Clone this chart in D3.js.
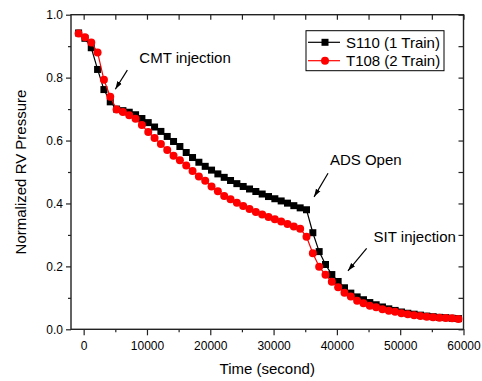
<!DOCTYPE html>
<html>
<head>
<meta charset="utf-8">
<script src="https://cdn.jsdelivr.net/npm/d3@7"></script>
<style>
body { margin: 0; background: white; }
text { font-family: "Liberation Sans", Arial, sans-serif; fill: #000; }
</style>
</head>
<body>
<script>
const largeur = 482;
const hauteur = 381;
const marges = { haut: 14.7, droite: 20, bas: 51.7, gauche: 71 };

// temps (s)
const temps = [
    -800, 200, 1200, 2200, 3200, 4200, 5200, 6200, 7200, 8200,
    9200, 10200, 11200, 12200, 13200, 14200, 15200, 16200, 17200, 18200,
    19200, 20200, 21200, 22200, 23200, 24200, 25200, 26200, 27200, 28200,
    29200, 30200, 31200, 32200, 33200, 34200, 35200, 36200, 37200, 38200,
    39200, 40200, 41200, 42200, 43200, 44200, 45200, 46200, 47200, 48200,
    49200, 50200, 51200, 52200, 53200, 54200, 55200, 56200, 57200, 58200,
    59200
];

const s110 = [
    0.942, 0.925, 0.895, 0.826, 0.762, 0.723, 0.700, 0.695, 0.690, 0.682,
    0.670, 0.657, 0.643, 0.629, 0.613, 0.597, 0.581, 0.562, 0.546, 0.531,
    0.518, 0.506, 0.494, 0.483, 0.473, 0.463, 0.454, 0.446, 0.438, 0.430,
    0.422, 0.415, 0.408, 0.401, 0.393, 0.386, 0.380, 0.307, 0.247, 0.206,
    0.174, 0.152, 0.132, 0.115, 0.103, 0.094, 0.085, 0.078, 0.071, 0.065,
    0.060, 0.055, 0.051, 0.048, 0.045, 0.042, 0.040, 0.038, 0.037, 0.035,
    0.034
];

const t108 = [
    0.940, 0.928, 0.912, 0.880, 0.793, 0.739, 0.699, 0.691, 0.680, 0.669,
    0.649, 0.627, 0.608, 0.589, 0.570, 0.552, 0.537, 0.521, 0.503, 0.486,
    0.472, 0.454, 0.439, 0.424, 0.413, 0.402, 0.392, 0.382, 0.373, 0.365,
    0.357, 0.350, 0.343, 0.335, 0.327, 0.320, 0.294, 0.242, 0.199, 0.173,
    0.151, 0.134, 0.116, 0.104, 0.091, 0.083, 0.075, 0.070, 0.064, 0.059,
    0.056, 0.051, 0.048, 0.045, 0.042, 0.040, 0.038, 0.037, 0.036, 0.035,
    0.033
];

const series = [
    { nom: "S110 (1 Train)", valeurs: s110, couleur: "#000000", symbole: "carre" },
    { nom: "T108 (2 Train)", valeurs: t108, couleur: "#ff0000", symbole: "rond" }
];

const ticksX = [0, 10000, 20000, 30000, 40000, 50000, 60000];
const ticksXMineurs = [5000, 15000, 25000, 35000, 45000, 55000];
const ticksY = [0, 0.2, 0.4, 0.6, 0.8, 1.0];
const ticksYMineurs = [0.1, 0.3, 0.5, 0.7, 0.9];

// annotations : texte, position du texte, debut et pointe de la fleche
const annotations = [
    { texte: "CMT injection", tx: 8800, ty: 0.845, x1: 6900, y1: 0.824, x2: 5000, y2: 0.763 },
    { texte: "ADS Open", tx: 38900, ty: 0.522, x1: 38600, y1: 0.496, x2: 36400, y2: 0.421 },
    { texte: "SIT injection", tx: 45800, ty: 0.277, x1: 44700, y1: 0.257, x2: 41750, y2: 0.186 }
];

const svg = d3
.select("body")
.append("svg")
.attr("width", largeur)
.attr("height", hauteur);

const x = d3.scaleLinear()
.domain([-2000, 60000])
.range([marges.gauche, largeur - marges.droite + 1.5]);

const y = d3.scaleLinear()
.domain([0, 1])
.range([hauteur - marges.bas, marges.haut]);

const x0 = x.range()[0], x1 = x.range()[1];
const y0 = y.range()[0], y1 = y.range()[1];

// fleches
const defs = svg.append("defs");
defs.append("marker")
.attr("id", "pointe")
.attr("viewBox", "0 0 10 10")
.attr("refX", 10)
.attr("refY", 5)
.attr("markerWidth", 8)
.attr("markerHeight", 8)
.attr("markerUnits", "userSpaceOnUse")
.attr("orient", "auto")
.append("path")
.attr("d", "M0,1.8 L10,5 L0,8.2 Z")
.attr("fill", "#000");

// axes gauche et bas
const axeX = svg.append("g")
.attr("transform", "translate(0," + y0 + ")")
.call(d3.axisBottom(x).tickValues(ticksX).tickSize(6).tickSizeOuter(0).tickPadding(6).tickFormat(d3.format("d")));

svg.append("g")
.attr("transform", "translate(0," + y0 + ")")
.call(d3.axisBottom(x).tickValues(ticksXMineurs).tickSize(3).tickSizeOuter(0).tickFormat(""));

svg.append("g")
.attr("transform", "translate(" + x0 + ",0)")
.call(d3.axisLeft(y).tickValues(ticksY).tickSize(5).tickSizeOuter(0).tickPadding(3).tickFormat(d3.format(".1f")));

svg.append("g")
.attr("transform", "translate(" + x0 + ",0)")
.call(d3.axisLeft(y).tickValues(ticksYMineurs).tickSize(3).tickSizeOuter(0).tickFormat(""));

// axes miroirs (ticks vers l'interieur)
svg.append("g")
.attr("transform", "translate(0," + y1 + ")")
.call(d3.axisBottom(x).tickValues(ticksX.concat(ticksXMineurs)).tickSize(5).tickSizeOuter(0).tickFormat(""));

svg.append("g")
.attr("transform", "translate(" + x1 + ",0)")
.call(d3.axisLeft(y).tickValues(ticksY.concat(ticksYMineurs)).tickSize(5).tickSizeOuter(0).tickFormat(""));

svg.selectAll(".domain").remove();
svg.selectAll(".tick line").attr("stroke", "#222").attr("stroke-width", 1.2);
svg.selectAll(".tick text")
.style("font-family", "'Liberation Sans', Arial, sans-serif")
.style("font-size", "12px")
.attr("fill", "#000");

// cadre
svg.append("rect")
.attr("x", x0)
.attr("y", y1)
.attr("width", x1 - x0)
.attr("height", y0 - y1)
.attr("fill", "none")
.attr("stroke", "#222")
.attr("stroke-width", 1.4);

// titres des axes
svg.append("text")
.attr("x", (x0 + x1) / 2)
.attr("y", 373.5)
.attr("text-anchor", "middle")
.style("font-size", "15px")
.text("Time (second)");

svg.append("text")
.attr("transform", "translate(26," + ((y0 + y1) / 2) + ") rotate(-90)")
.attr("text-anchor", "middle")
.style("font-size", "15px")
.text("Normalized RV Pressure");

// courbes
const ligne = d3.line()
.x(function(d, i) { return x(temps[i]); })
.y(function(d) { return y(d); });

series.forEach(function(s)
{
    const g = svg.append("g");

    g.append("path")
    .attr("d", ligne(s.valeurs))
    .attr("fill", "none")
    .attr("stroke", s.couleur)
    .attr("stroke-width", 1.2);

    if(s.symbole == "carre")
    {
        g.selectAll("rect")
        .data(s.valeurs)
        .enter()
        .append("rect")
        .attr("x", function(d, i) { return x(temps[i]) - 3.5; })
        .attr("y", function(d) { return y(d) - 3.5; })
        .attr("width", 7)
        .attr("height", 7)
        .attr("fill", s.couleur);
    }
    else
    {
        g.selectAll("circle")
        .data(s.valeurs)
        .enter()
        .append("circle")
        .attr("cx", function(d, i) { return x(temps[i]); })
        .attr("cy", function(d) { return y(d); })
        .attr("r", 4)
        .attr("fill", s.couleur);
    }
});

// annotations
annotations.forEach(function(a)
{
    svg.append("text")
    .attr("x", x(a.tx))
    .attr("y", y(a.ty))
    .style("font-size", "15px")
    .text(a.texte);

    svg.append("line")
    .attr("x1", x(a.x1))
    .attr("y1", y(a.y1))
    .attr("x2", x(a.x2))
    .attr("y2", y(a.y2))
    .attr("stroke", "#000")
    .attr("stroke-width", 1.2)
    .attr("marker-end", "url(#pointe)");
});

// legende
const legende = svg.append("g").attr("transform", "translate(306,30.7)");

legende.append("rect")
.attr("width", 138)
.attr("height", 40)
.attr("fill", "white")
.attr("stroke", "#000")
.attr("stroke-width", 1);

series.forEach(function(s, i)
{
    const ly = 11.6 + i * 18.4;

    legende.append("line")
    .attr("x1", 2)
    .attr("x2", 34)
    .attr("y1", ly)
    .attr("y2", ly)
    .attr("stroke", s.couleur)
    .attr("stroke-width", 1.2);

    if(s.symbole == "carre")
    {
        legende.append("rect")
        .attr("x", 19 - 3.5)
        .attr("y", ly - 3.5)
        .attr("width", 7)
        .attr("height", 7)
        .attr("fill", s.couleur);
    }
    else
    {
        legende.append("circle")
        .attr("cx", 19)
        .attr("cy", ly)
        .attr("r", 4)
        .attr("fill", s.couleur);
    }

    legende.append("text")
    .attr("x", 40)
    .attr("y", ly + 5.3)
    .style("font-size", "15px")
    .text(s.nom);
});
</script>
</body>
</html>
